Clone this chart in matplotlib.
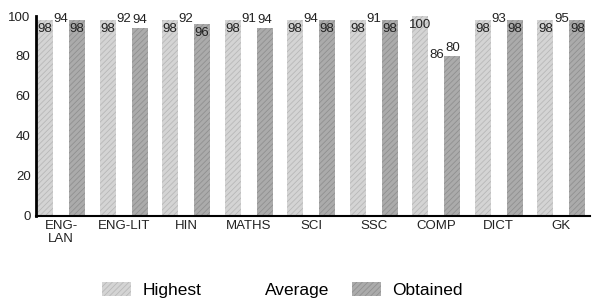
import numpy as np
import matplotlib
matplotlib.use("Agg")
import matplotlib.pyplot as plt
from matplotlib.patches import Patch

plt.rcParams['font.family'] = ['Liberation Sans', 'DejaVu Sans']
plt.rcParams['hatch.linewidth'] = 0.6

subjects = ['ENG-\nLAN', 'ENG-LIT', 'HIN', 'MATHS', 'SCI', 'SSC', 'COMP', 'DICT', 'GK']
highest = [98, 98, 98, 98, 98, 98, 100, 98, 98]
average = [94, 92, 92, 91, 94, 91, 86, 93, 95]
obtained = [98, 94, 96, 94, 98, 98, 80, 98, 98]

x = np.arange(len(subjects))
w = 0.256
fs = 9.5
tc = '#222222'

fig = plt.figure(figsize=(5.93, 3.02), dpi=100)
ax = fig.add_axes([0.061, 0.285, 0.934, 0.662])

ax.bar(x - w, highest, w, color='#d4d4d4', edgecolor='#b8b8b8', hatch='//////', linewidth=0)
ax.bar(x, average, w, color='white', linewidth=0)
ax.bar(x + w, obtained, w, color='#ababab', edgecolor='#909090', hatch='//////', linewidth=0)

for i in range(len(subjects)):
    ax.text(x[i] - w, highest[i] - 1.5, str(highest[i]), ha='center', va='top', fontsize=fs, color=tc)
    if obtained[i] < highest[i] - 3:
        # short bar: number sits above it
        ax.text(x[i] + w, obtained[i] + 0.8, str(obtained[i]), ha='center', va='bottom', fontsize=fs, color=tc)
    else:
        ax.text(x[i] + w, obtained[i] - 1.5, str(obtained[i]), ha='center', va='top', fontsize=fs, color=tc)
    ya = 98.5 if obtained[i] >= 90 else obtained[i] + 0.5
    ax.text(x[i], ya, str(average[i]), ha='center', va='center', fontsize=fs, color=tc)

ax.set_xlim(-0.4, 8.46)
ax.set_ylim(0, 100)
ax.set_yticks([0, 20, 40, 60, 80, 100])
ax.set_xticks(x)
ax.set_xticklabels(subjects, fontsize=fs, color=tc, linespacing=1.1)
ax.tick_params(axis='both', length=0, labelsize=fs, colors=tc)
ax.tick_params(axis='y', pad=4)
ax.tick_params(axis='x', pad=3)

for s in ['top', 'right']:
    ax.spines[s].set_visible(False)
ax.spines['left'].set_linewidth(2)
ax.spines['bottom'].set_linewidth(1.5)

handles = [
    Patch(facecolor='#d4d4d4', edgecolor='#b8b8b8', hatch='//////', linewidth=0),
    Patch(facecolor='white', linewidth=0),
    Patch(facecolor='#ababab', edgecolor='#909090', hatch='//////', linewidth=0),
]
fig.legend(handles, ['Highest', 'Average', 'Obtained'], loc='center', bbox_to_anchor=(0.476, 0.04),
           ncol=3, frameon=False, fontsize=12.5, handlelength=1.7, handleheight=0.9,
           handletextpad=0.65, columnspacing=1.3)

fig.savefig('out.png', dpi=100)
